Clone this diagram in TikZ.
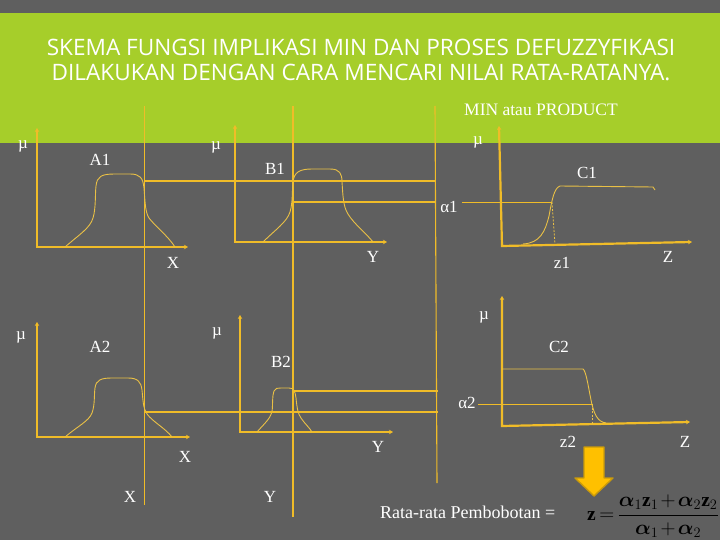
\documentclass[tikz,border=0pt]{standalone}
\usepackage{fontspec}
\usepackage{amsmath,bm}
\setmainfont{Liberation Serif}
\newfontfamily\titlefont{Open Sans}
\usetikzlibrary{arrows.meta}
\usetikzlibrary{positioning}
\definecolor{SlideGrey}{HTML}{5F5F5F}
\definecolor{SlideGreen}{HTML}{A6CE2A}
\definecolor{AxisGold}{HTML}{F0BC28}
\definecolor{CurveGold}{HTML}{E9C046}
\definecolor{ArrowGold}{HTML}{FFC000}
\definecolor{ArrowEdge}{HTML}{C99A0C}
\tikzset{
  mfaxis/.style={AxisGold,line width=2.2pt,
    {Stealth[length=4pt,width=4.5pt]}-{Stealth[length=4pt,width=4.5pt]}},
  mfcurve/.style={CurveGold,line width=0.9pt},
  guide/.style={AxisGold,line width=1.1pt},
  cutline/.style={CurveGold,line width=0.8pt,dash pattern=on 2pt off 1.5pt},
  lbl/.style={text=white,inner sep=0pt,font=\fontsize{17}{17}\selectfont},
  titletext/.style={text=white,inner sep=0pt,font=\titlefont\fontsize{22.6}{22.6}\selectfont}
}

\begin{document}
\begin{tikzpicture}[x=1pt,y=-1pt]
  \useasboundingbox (0,0) rectangle (720,540);
  \fill[SlideGrey] (0,0) rectangle (720,540);
  \fill[SlideGreen] (0,13) rectangle (720,143);

  % title
  \node[titletext] (title1) at (361,47)
    {SKEMA FUNGSI IMPLIKASI MIN DAN PROSES DEFUZZYFIKASI};
  \node[titletext] (title2) at (361,72)
    {DILAKUKAN DENGAN CARA MENCARI NILAI RATA-RATANYA.};
  \node[lbl,font=\fontsize{17.5}{17.5}\selectfont] (minprod) at (541,110) {MIN atau PRODUCT};

  % long vertical guides
  \coordinate (gxTop) at (144.5,106);  \coordinate (gxBot) at (144.5,505);
  \coordinate (gyTop) at (293,106);    \coordinate (gyBot) at (293,517);
  \coordinate (gzTop) at (435,106);    \coordinate (gzBot) at (437,483);
  \draw[guide] (gxTop) -- (gxBot);
  \draw[guide] (gyTop) -- (gyBot);
  \draw[guide] (gzTop) -- (gzBot);

  % rule 1 ------------------------------------------------
  \coordinate (A1o) at (37,247);
  \draw[mfaxis] (37,128) -- (A1o) -- (188,247);
  \coordinate (B1o) at (235,242);
  \draw[mfaxis] (235,125) -- (B1o) -- (387,242);
  \coordinate (C1o) at (502,246);
  \draw[mfaxis] (499,126) -- (C1o) -- (692,242);

  \draw[mfcurve] (65,247) .. controls (80,234) and (90,228) .. (93,218)
    .. controls (96,208) and (95,195) .. (96,186)
    .. controls (97,176) and (102,174) .. (115,174) -- (130,174)
    .. controls (140,174) and (143,178) .. (144,188)
    .. controls (145,200) and (145,212) .. (149,218)
    .. controls (155,226) and (168,236) .. (175,247);
  \draw[mfcurve] (263,242) .. controls (275,230) and (287,222) .. (290,212)
    .. controls (293,202) and (292,190) .. (293,182)
    .. controls (294,172) and (300,169) .. (312,169) -- (330,169)
    .. controls (340,169) and (342,174) .. (342,182)
    .. controls (343,196) and (343,206) .. (348,214)
    .. controls (354,224) and (366,233) .. (373,242);
  \draw[mfcurve] (523,244) .. controls (540,243) and (545,232) .. (549,216)
    .. controls (552,200) and (554,188) .. (560,186) -- (653,187) -- (655,190);

  \draw[guide] (144.5,181) -- (435,181);
  \draw[guide] (293,202) -- (435,202);
  \node[lbl] (alpha1) at (449,207) {α1};
  \coordinate (cut1) at (552,202);
  \draw[guide,line width=0.9pt] (462,202) -- (cut1);
  \draw[cutline] (cut1) -- (555,244);

  \node[lbl] (muA1) at (23,146) {µ};
  \node[lbl] (labA1) at (100,160) {A1};
  \node[lbl] (labX1) at (173,263) {X};
  \node[lbl] (muB1) at (216,147) {µ};
  \node[lbl] (labB1) at (275,169) {B1};
  \node[lbl] (labY1) at (373,257) {Y};
  \node[lbl] (muC1) at (478,142) {µ};
  \node[lbl] (labC1) at (587,173) {C1};
  \node[lbl] (labz1) at (562,263) {z1};
  \node[lbl] (labZ1) at (668,257) {Z};

  % rule 2 ------------------------------------------------
  \coordinate (A2o) at (37,437);
  \draw[mfaxis] (37,322) -- (A2o) -- (190,437);
  \coordinate (B2o) at (240,432);
  \draw[mfaxis] (240,315) -- (B2o) -- (393,432);
  \coordinate (C2o) at (502,426);
  \draw[mfaxis] (502,296) -- (C2o) -- (690,422);

  \draw[mfcurve] (65,437) .. controls (78,426) and (89,421) .. (92,413)
    .. controls (95,405) and (94,395) .. (95,388)
    .. controls (96,380) and (101,378) .. (112,378) -- (128,378)
    .. controls (138,378) and (141,382) .. (142,390)
    .. controls (143,400) and (143,408) .. (147,414)
    .. controls (153,422) and (165,428) .. (172,437);
  \draw[mfcurve] (257,432) .. controls (264,424) and (270,419) .. (272,412)
    .. controls (273,404) and (272,396) .. (274,391)
    .. controls (275,388) and (278,388) .. (281,388) -- (289,388)
    .. controls (294,388) and (295,391) .. (296,398)
    .. controls (297,408) and (298,414) .. (301,418)
    .. controls (305,424) and (309,427) .. (312,432);
  \draw[mfcurve] (502,369) -- (583,369)
    .. controls (586,371) and (588,385) .. (591,400)
    .. controls (594,415) and (598,422) .. (606,423);

  \draw[guide] (144.5,412) -- (438,412);
  \draw[guide] (293,391) -- (438,391);
  \node[lbl] (alpha2) at (467,403) {α2};
  \coordinate (cut2) at (592,404);
  \draw[guide,line width=0.9pt] (478,404) -- (cut2);
  \draw[cutline] (cut2) -- (592,424);

  \node[lbl] (muA2) at (21,337) {µ};
  \node[lbl] (labA2) at (100,347) {A2};
  \node[lbl] (labX2) at (185,457) {X};
  \node[lbl] (muB2) at (217,333) {µ};
  \node[lbl] (labB2) at (281,362) {B2};
  \node[lbl] (labY2) at (378,447) {Y};
  \node[lbl] (muC2) at (484,317) {µ};
  \node[lbl] (labC2) at (559,347) {C2};
  \node[lbl] (labz2) at (568,442) {z2};
  \node[lbl] (labZ2) at (685,442) {Z};

  \node[lbl] (botX) at (130,497) {X};
  \node[lbl] (botY) at (270,497) {Y};

  % weighted average
  \draw[ArrowEdge,line width=1.4pt,fill=ArrowGold,line join=round]
    (584,447) -- (604,447) -- (604,478) -- (613,478) -- (594,496)
    -- (575,478) -- (584,478) -- cycle;
  \node[lbl,anchor=west,font=\fontsize{18}{18}\selectfont] (rata) at (380,512) {Rata-rata Pembobotan =};
  \node[inner sep=0pt,text=black,font=\fontsize{19.5}{19.5}\selectfont,anchor=west] (zavg) at (587,516)
    {\medmuskip=2mu \thickmuskip=3mu
     $\mathbf{z}=\dfrac{\bm{\alpha}_1\mathbf{z}_1+\bm{\alpha}_2\mathbf{z}_2}{\bm{\alpha}_1+\bm{\alpha}_2}$};
\end{tikzpicture}
\end{document}
